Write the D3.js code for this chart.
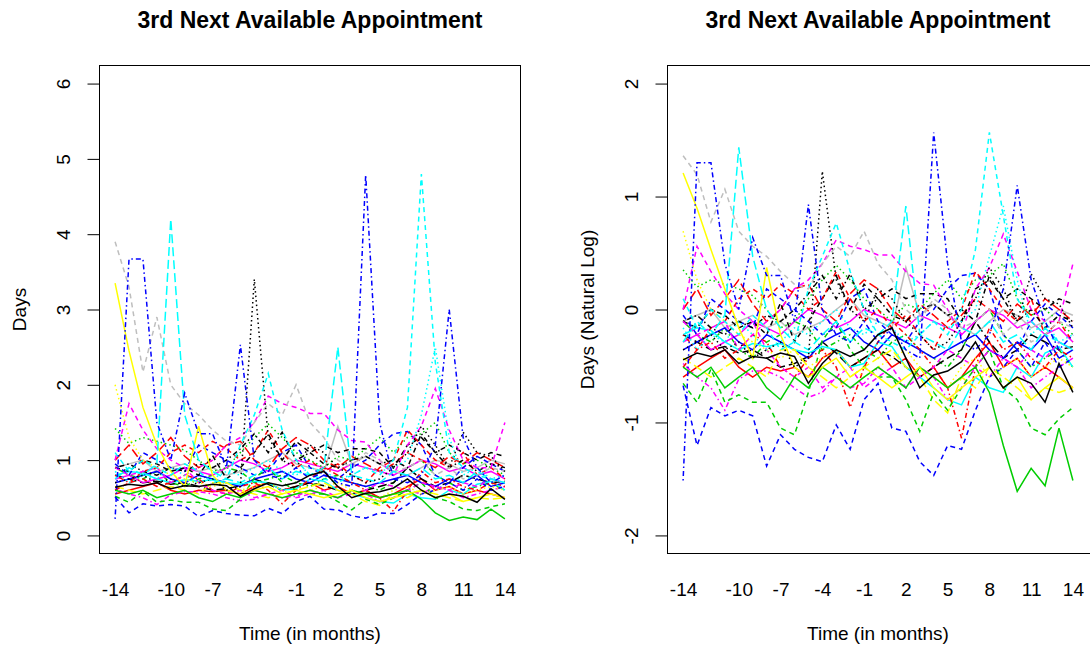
<!DOCTYPE html>
<html>
<head>
<meta charset="utf-8">
<script src="https://cdn.jsdelivr.net/npm/d3@7"></script>
<style>
  body { margin: 0; background: #fff; }
  svg { display: block; font-family: "Liberation Sans", Arial, sans-serif; }
</style>
</head>
<body>
<div id="chart"></div>
<script>
// DATA ------------------------
const months = [-14, -13, -12, -11, -10, -9, -8, -7, -6, -5, -4, -3, -2, -1, 0,
  1, 2, 3, 4, 5, 6, 7, 8, 9, 10, 11, 12, 13, 14]
const xTickLabels = [-14, -10, -7, -4, -1, 2, 5, 8, 11, 14]
const yTicksDays = [0, 1, 2, 3, 4, 5, 6]
const yTicksLog = [-2, -1, 0, 1, 2]

// one array per clinic, months -14..14 (days)
const clinic01 = [0.55,0.6,0.65,0.7,0.6, 0.55,0.6,0.58,0.6,0.55, 0.65,0.7,0.6,0.65,0.7, 0.6,0.65,0.55,0.6,0.5, 0.55,0.65,0.75,0.6,0.65, 0.55,0.6,0.55,0.5]
const clinic02 = [0.9,0.8,0.75,0.85,0.7, 0.65,0.75,0.8,0.9,0.85, 0.7,0.75,0.8,0.7,0.65, 0.75,0.8,0.7,0.65,0.6, 0.7,0.9,1.0,0.8,0.7, 0.6,0.65,0.7,0.6]
const clinic03 = [0.8,0.75,0.7,0.72,0.68, 0.7,0.65,0.6,0.62,0.66, 0.75,0.68,0.6,0.65,0.7, 0.66,0.6,0.55,0.6,0.65, 0.7,0.9,0.75,0.65,0.7, 0.8,0.75,0.7,0.72]
const clinic04 = [0.75,0.8,0.7,0.75,0.8, 0.9,0.85,0.8,0.9,1.0, 0.95,0.85,0.9,1.0,0.95, 0.9,0.85,0.95,0.9,0.85, 0.8,0.9,1.0,0.95,0.85, 0.9,0.8,0.85,0.75]
const clinic05 = [0.9,0.95,1.0,0.85,0.9, 0.95,0.85,0.9,0.8,0.85, 0.9,1.0,1.1,0.95,0.9, 0.85,1.45,0.95,1.05,0.95, 0.85,0.8,0.9,1.0,0.95, 0.85,0.9,1.0,0.95]
const clinic06 = [0.7,0.75,0.8,0.85,0.75, 0.7,0.8,0.75,0.7,0.65, 0.75,0.8,0.85,0.75,0.7, 0.8,0.75,0.7,0.65,0.7, 0.75,0.8,0.7,0.65,0.75, 0.7,0.8,0.65,0.7]
const clinic07 = [0.8,0.85,0.83,0.75,0.7, 0.74,0.72,0.74,0.7,0.68, 0.72,0.7,0.6,0.62,0.75, 0.72,0.6,0.55,0.5,0.45, 0.43,0.55,0.5,0.48,0.6, 0.55,0.68,0.72,0.6]
const clinic08 = [1.0,1.2,0.95,1.1,1.3, 1.05,0.9,1.0,1.2,1.25, 1.0,0.9,1.15,1.3,1.2, 1.0,0.9,1.05,0.95,0.85, 0.95,1.1,1.0,0.9,1.05, 0.95,1.1,1.0,0.9]
const clinic09 = [0.65,0.6,0.55,0.6,0.65, 0.6,0.55,0.7,0.7,0.6, 0.55,0.5,0.55,0.6,0.65, 0.7,0.6,0.55,0.45,0.4, 0.55,0.5,0.6,0.55,0.5, 0.45,0.5,0.48,0.5]
const clinic10 = [0.62,0.55,0.5,0.41,0.54, 0.58,0.58,0.55,0.5,0.46, 0.48,0.55,0.5,0.52,0.6, 0.55,0.5,0.6,0.55,0.45, 0.5,0.6,0.55,0.65,0.6, 0.5,0.55,0.6,0.65]
const clinic11 = [0.9,0.85,1.0,0.95,0.85, 0.9,0.8,1.06,0.75,0.9, 1.1,1.35,1.0,1.25,1.1, 1.2,1.1,1.15,1.15,1.1, 0.9,1.2,1.3,1.1,1.2, 1.1,1.0,1.1,1.05]
const clinic12 = [1.42,1.22,1.3,1.25,1.2, 1.13,1.0,0.85,0.9,1.1, 1.3,1.48,1.3,1.1,1.0, 0.9,1.05,1.0,1.15,1.3, 1.1,1.3,1.35,1.5,1.1, 0.95,1.0,0.9,0.8]
const clinic13 = [0.95,0.8,1.1,1.0,0.9, 0.85,1.2,1.1,1.0,0.9, 0.8,0.85,1.1,1.2,0.9, 0.8,0.75,0.9,1.0,1.2, 1.35,1.38,1.2,0.8,0.7, 0.9,1.05,0.95,0.85]
const clinic14 = [0.8,0.7,0.75,0.65,0.7, 0.8,0.75,0.6,0.55,0.65, 0.7,0.6,0.42,0.6,0.75, 0.9,0.8,0.7,0.6,0.5, 0.32,0.6,0.85,0.7,0.75, 0.65,0.6,0.7,0.65]
const clinic15 = [0.52,0.44,0.59,0.44,0.47, 0.44,0.44,0.35,0.33,0.48, 0.76,0.9,0.7,0.6,0.55, 0.55,0.45,0.34,0.48,0.41, 0.5,0.6,0.7,0.5,0.45, 0.35,0.33,0.38,0.42]
const clinic16 = [0.51,0.30,0.42,0.39,0.41, 0.39,0.25,0.33,0.29,0.27, 0.26,0.36,0.29,0.45,0.52, 0.35,0.34,0.26,0.23,0.30, 0.29,0.41,0.55,0.6,0.7, 0.6,0.75,0.6,0.65]
const clinic17 = [1.0,1.75,1.4,1.15,1.0, 0.9,0.7,0.6,0.55,0.6, 0.5,0.55,0.6,0.5,0.55, 0.6,0.5,0.55,0.6,0.7, 0.65,0.6,0.7,0.65,0.6, 0.7,0.65,0.75,0.7]
const clinic18 = [2.0,1.3,1.0,0.9,0.8, 0.75,0.7,0.65,0.7,0.6, 0.65,0.7,0.6,0.55,0.6, 0.65,0.7,0.6,0.55,0.5, 0.6,0.65,0.55,0.6,0.65, 0.55,0.6,0.65,0.6]
const clinic19 = [0.6,0.7,0.85,0.9,1.1, 1.2,1.1,1.25,1.15,1.0, 1.1,1.4,1.1,0.9,1.0, 0.85,0.95,0.8,0.7,0.9, 1.0,1.4,1.2,1.0,0.9, 1.1,0.8,0.9,0.75]
const clinic20 = [0.9,0.95,0.85,0.8,0.9, 0.85,0.95,0.9,1.0,1.15, 1.35,1.1,1.37,1.0,1.1, 0.95,0.9,1.0,1.05,0.95, 1.0,0.9,1.35,1.1,0.9, 1.0,0.85,0.95,0.9]
const clinic21 = [0.85,0.7,0.8,0.75,0.9, 0.8,0.7,0.75,0.85,0.8, 0.9,1.0,0.85,0.8,0.9, 0.85,0.75,0.8,0.9,0.85, 0.9,1.0,1.6,2.5,1.3, 0.8,0.9,0.75,0.8]
const clinic22 = [0.6,0.55,0.6,0.5,0.55, 0.6,0.5,0.45,0.55,0.5, 0.6,0.55,0.5,0.55,0.6, 0.55,0.5,0.6,0.55,0.5, 0.55,0.6,0.48,0.3,0.2, 0.245,0.21,0.35,0.22]
const clinic23 = [0.9,0.8,0.85,0.9,0.7, 0.8,0.9,1.0,1.2,1.3, 1.5,1.85,1.75,1.7,1.62, 1.62,1.4,1.26,1.24,1.0, 0.8,1.2,1.45,1.95,1.4, 1.0,0.9,0.9,1.5]
const clinic24 = [3.9,3.3,2.17,2.9,2.0, 1.75,1.6,1.4,1.25,1.2, 1.5,1.75,1.6,2.0,1.5, 1.3,1.0,0.9,1.1,1.0, 0.85,0.9,1.0,0.8,0.9, 0.75,0.8,0.9,0.85]
const clinic25 = [3.35,2.45,1.7,1.2,0.85, 0.65,1.45,0.8,0.6,0.55, 0.6,0.65,0.55,0.6,0.55, 0.5,0.55,0.6,0.5,0.45, 0.5,0.55,0.6,0.5,0.55, 0.45,0.5,0.55,0.5]
const clinic26 = [0.75,0.9,0.8,0.95,4.2, 1.6,1.0,0.85,0.75,0.7, 0.8,0.9,0.75,0.85,0.8, 0.9,2.5,0.8,0.75,0.7, 0.85,0.8,0.9,0.75,0.8, 0.7,0.85,0.75,0.7]
const clinic27 = [0.7,0.75,0.8,0.7,0.75, 0.65,0.7,0.75,0.6,0.65, 3.4,1.3,1.0,0.9,1.2, 1.1,0.9,0.8,0.7,0.75, 0.9,1.1,1.45,1.2,0.9, 1.37,1.1,1.05,0.85]
const clinic28 = [1.1,0.85,1.0,0.9,0.8, 0.95,0.85,0.7,0.75,1.2, 1.6,2.15,1.4,1.0,0.8, 0.75,0.7,0.8,0.9,0.8, 1.0,1.7,4.8,2.3,1.1, 0.9,0.8,0.75,0.7]
const clinic29 = [0.22,3.67,3.67,1.5,1.0, 1.89,1.35,1.35,0.9,2.53, 1.0,0.8,0.75,0.9,0.75, 0.85,0.7,0.65,4.79,1.5, 0.75,0.7,0.8,1.2,3.0, 1.3,0.9,0.7,0.8]
const clinic30 = [0.64,0.68,0.66,0.7,0.62, 0.66,0.65,0.68,0.66,0.52, 0.62,0.7,0.66,0.7,0.8, 0.85,0.65,0.5,0.56,0.58, 0.63,0.75,0.6,0.5,0.55, 0.52,0.44,0.62,0.48]

const seriesValues = [clinic01, clinic02, clinic03, clinic04, clinic05, clinic06,
  clinic07, clinic08, clinic09, clinic10, clinic11, clinic12, clinic13, clinic14,
  clinic15, clinic16, clinic17, clinic18, clinic19, clinic20, clinic21, clinic22,
  clinic23, clinic24, clinic25, clinic26, clinic27, clinic28, clinic29, clinic30]
const seriesColors = ["red", "green", "black", "magenta", "gray", "blue",
  "cyan", "red", "yellow", "magenta", "black", "green", "blue", "red",
  "green", "blue", "magenta", "yellow", "red", "black", "cyan", "green",
  "magenta", "gray", "yellow", "cyan", "black", "cyan", "blue", "black"]
const seriesTypes = ["solid", "dotdash", "longdash", "solid", "solid", "solid",
  "solid", "longdash", "longdash", "dotdash", "dashed", "dotted", "dashed", "dotdash",
  "dashed", "dashed", "dashed", "dotted", "dashed", "dotdash", "dotted", "solid",
  "dashed", "dashed", "solid", "longdash", "dotted", "dashed", "dotdash", "solid"]

// STYLE -----------------------
const W = 1090, H = 648
const BOX_TOP = 65.5, BOX_BOTTOM = 553.5, BOX_W = 421
const palette = {
  black: "#000000", red: "#FF0000", green: "#00CD00", blue: "#0000FF",
  cyan: "#00FFFF", magenta: "#FF00FF", yellow: "#FFFF00", gray: "#BEBEBE"
}
const dashes = {
  solid: null, dashed: "5,4", dotted: "1.5,3", dotdash: "1.5,3,5,3", longdash: "9,4"
}

const svg = d3.select("#chart").append("svg")
  .attr("width", W).attr("height", H)

function drawPanel(left, boxW, yDomain, yTicks, toY, yLabel) {
  const xScale = d3.scaleLinear().domain([-15.12, 15.12]).range([left, left + BOX_W])
  const yScale = d3.scaleLinear().domain(yDomain).range([BOX_BOTTOM, BOX_TOP])
  const cx = left + BOX_W / 2

  const g = svg.append("g")

  // LINES
  const line = d3.line()
    .x((d, i) => xScale(months[i]))
    .y(d => yScale(toY(d)))

  seriesValues.forEach((vals, i) => {
    g.append("path")
      .attr("d", line(vals))
      .attr("fill", "none")
      .attr("stroke", palette[seriesColors[i]])
      .attr("stroke-width", 1.5)
      .attr("stroke-dasharray", dashes[seriesTypes[i]])
  })

  // BOX
  g.append("rect")
    .attr("x", left).attr("y", BOX_TOP)
    .attr("width", boxW).attr("height", BOX_BOTTOM - BOX_TOP)
    .attr("fill", "none").attr("stroke", "#000").attr("stroke-width", 1)

  // AXES
  const gx = g.append("g").attr("transform", `translate(0,${BOX_BOTTOM})`)
    .call(d3.axisBottom(xScale).tickValues(xTickLabels).tickSize(0))
  gx.select(".domain").remove()
  gx.selectAll("text")
    .attr("y", 42.5).attr("dy", 0)
    .style("font-size", "19px").style("font-family", "Liberation Sans, Arial, sans-serif")
    .attr("fill", "#000")
    .text(d => d < 0 ? "-" + Math.abs(d) : d)

  const gy = g.append("g").attr("transform", `translate(${left},0)`)
    .call(d3.axisLeft(yScale).tickValues(yTicks).tickSize(12))
  gy.select(".domain").remove()
  gy.selectAll("line").attr("stroke", "#000")
  gy.selectAll("text")
    .attr("transform", "rotate(-90)")
    .attr("x", 0).attr("y", -30).attr("dy", 0)
    .attr("text-anchor", "middle")
    .style("font-size", "19px").style("font-family", "Liberation Sans, Arial, sans-serif")
    .attr("fill", "#000")
    .text(d => d < 0 ? "-" + Math.abs(d) : d)

  // LABELS
  svg.append("text")
    .attr("x", cx).attr("y", 28)
    .attr("text-anchor", "middle")
    .style("font-size", "23px").style("font-weight", "bold")
    .text("3rd Next Available Appointment")

  svg.append("text")
    .attr("x", cx).attr("y", 640)
    .attr("text-anchor", "middle")
    .style("font-size", "19px")
    .text("Time (in months)")

  svg.append("text")
    .attr("transform", `translate(${left - 74},${(BOX_TOP + BOX_BOTTOM) / 2}) rotate(-90)`)
    .attr("text-anchor", "middle")
    .style("font-size", "19px")
    .text(yLabel)
}

drawPanel(99.5, BOX_W, [-0.24, 6.24], yTicksDays, v => v, "Days")
drawPanel(667.5, BOX_W + 4, [-2.16, 2.16], yTicksLog, v => Math.log(v), "Days (Natural Log)")
</script>
</body>
</html>
